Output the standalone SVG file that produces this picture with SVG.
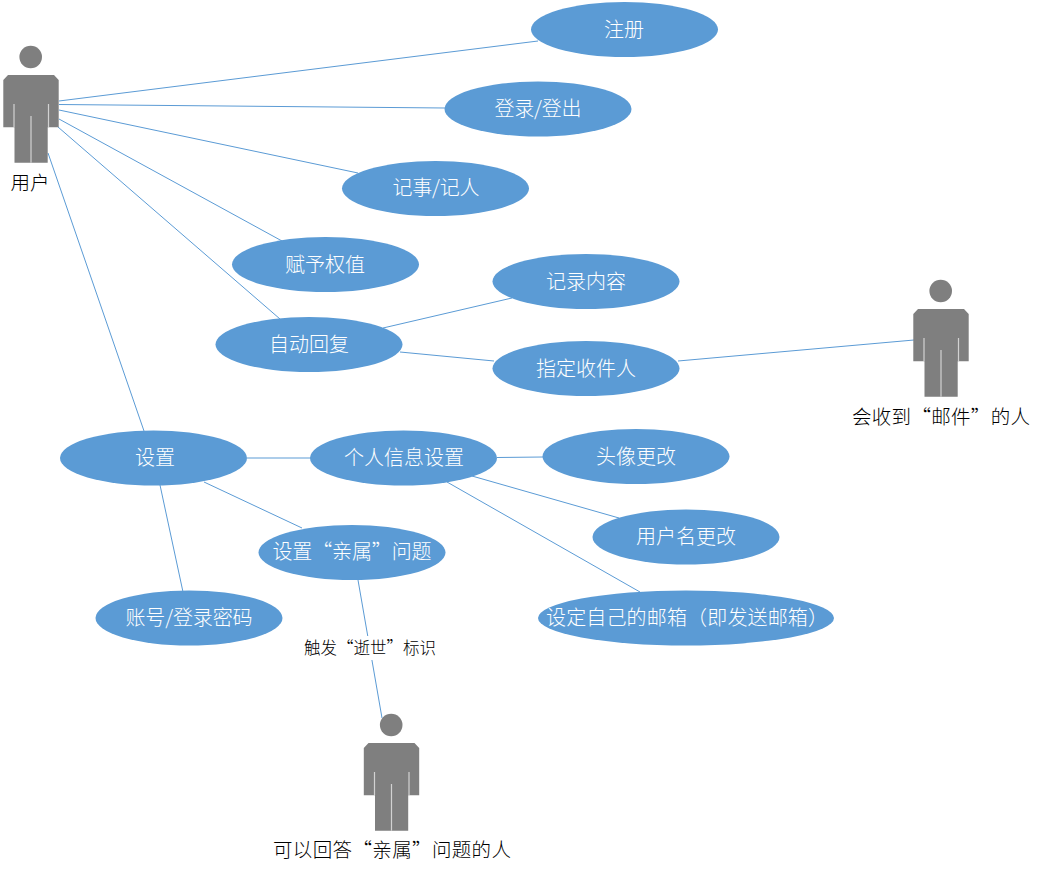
<svg xmlns="http://www.w3.org/2000/svg" width="1042" height="871" viewBox="0 0 1042 871">
<style>
text{font-family:"Noto Sans CJK SC","Liberation Serif",serif;text-anchor:middle}
.u ellipse{fill:#5b9bd5}
.u text{fill:#fff;font-size:20px;font-weight:300}
.l{fill:#000;font-size:19.5px;font-weight:300}
.n{fill:#000;font-size:16.5px;font-weight:300}
#connectors line{stroke:#5b9bd5;stroke-width:1}
</style>
<defs>
<g id="actor">
<circle cx="30.7" cy="57" r="11.3" fill="#7f7f7f"/>
<path d="M8 75H54L58.7 80V127.3H47.7V162.7H14.5V127.3H3.3V80Z" fill="#7f7f7f"/>
<path d="M14 104V127M48.500 104V127M31 116V162.700" stroke="#d2d2d2" stroke-width="1.2" fill="none"/>
</g>
</defs>
<g id="connectors">
<line x1="59" y1="101" x2="538" y2="41"/>
<line x1="59" y1="104.500" x2="445" y2="108"/>
<line x1="59" y1="110" x2="358" y2="173"/>
<line x1="59" y1="119" x2="282" y2="241"/>
<line x1="58" y1="127" x2="280" y2="319"/>
<line x1="48" y1="153" x2="144" y2="431"/>
<line x1="383" y1="328" x2="512" y2="298"/>
<line x1="400" y1="352" x2="494" y2="361"/>
<line x1="678" y1="361" x2="914" y2="340"/>
<line x1="247" y1="458" x2="311" y2="458"/>
<line x1="497" y1="457.500" x2="543" y2="457"/>
<line x1="472" y1="476" x2="619" y2="518"/>
<line x1="447" y1="482" x2="640" y2="592"/>
<line x1="204" y1="482" x2="302" y2="528"/>
<line x1="160" y1="485" x2="183" y2="592"/>
<line x1="358" y1="580" x2="382" y2="718"/>
</g>
<g id="actor-user"><use href="#actor"/><text class="l" x="30" y="190">用户</text></g>
<g id="actor-recipient"><use href="#actor" x="910" y="234"/><text class="l" x="941" y="424" textLength="178" lengthAdjust="spacing">会收到“邮件”的人</text></g>
<g id="actor-answerer"><use href="#actor" x="360.500" y="668"/><text class="l" x="392" y="857" textLength="238" lengthAdjust="spacing">可以回答“亲属”问题的人</text></g>
<g id="uc-register" class="u"><ellipse cx="624.500" cy="29.500" rx="93.500" ry="27.500"/><text x="624" y="37">注册</text></g>
<g id="uc-login" class="u"><ellipse cx="538" cy="109" rx="93.500" ry="27.500"/><text x="538" y="116" textLength="87">登录/登出</text></g>
<g id="uc-note" class="u"><ellipse cx="435.500" cy="188.500" rx="93.500" ry="27.500"/><text x="436" y="195" textLength="87">记事/记人</text></g>
<g id="uc-weight" class="u"><ellipse cx="325.500" cy="264.500" rx="93.500" ry="27.500"/><text x="325" y="272">赋予权值</text></g>
<g id="uc-record" class="u"><ellipse cx="586" cy="281.500" rx="93.500" ry="27.500"/><text x="586" y="289">记录内容</text></g>
<g id="uc-autoreply" class="u"><ellipse cx="309" cy="344.500" rx="93.500" ry="27.500"/><text x="309" y="352">自动回复</text></g>
<g id="uc-recipient" class="u"><ellipse cx="586" cy="368.500" rx="93.500" ry="27.500"/><text x="586" y="376">指定收件人</text></g>
<g id="uc-settings" class="u"><ellipse cx="153.500" cy="458" rx="93.500" ry="27.500"/><text x="155" y="465">设置</text></g>
<g id="uc-profile" class="u"><ellipse cx="403.500" cy="458" rx="93.500" ry="27.500"/><text x="404" y="465">个人信息设置</text></g>
<g id="uc-avatar" class="u"><ellipse cx="636" cy="456.500" rx="93.500" ry="27.500"/><text x="636" y="464">头像更改</text></g>
<g id="uc-username" class="u"><ellipse cx="686" cy="537" rx="93.500" ry="27.500"/><text x="686" y="544">用户名更改</text></g>
<g id="uc-kin" class="u"><ellipse cx="352" cy="552.500" rx="93.500" ry="27.500"/><text x="352" y="559" textLength="159" lengthAdjust="spacing">设置“亲属”问题</text></g>
<g id="uc-password" class="u"><ellipse cx="189" cy="618" rx="93.500" ry="27.500"/><text x="189" y="625" textLength="127">账号/登录密码</text></g>
<g id="uc-mailbox" class="u"><ellipse cx="686" cy="618" rx="148" ry="27.500"/><text x="687" y="625" textLength="282" lengthAdjust="spacing">设定自己的邮箱（即发送邮箱）</text></g>
<g id="label-trigger"><rect x="303" y="636" width="134" height="24" fill="#fff"/><text class="n" x="370" y="654" textLength="132" lengthAdjust="spacing">触发“逝世”标识</text></g>
</svg>
